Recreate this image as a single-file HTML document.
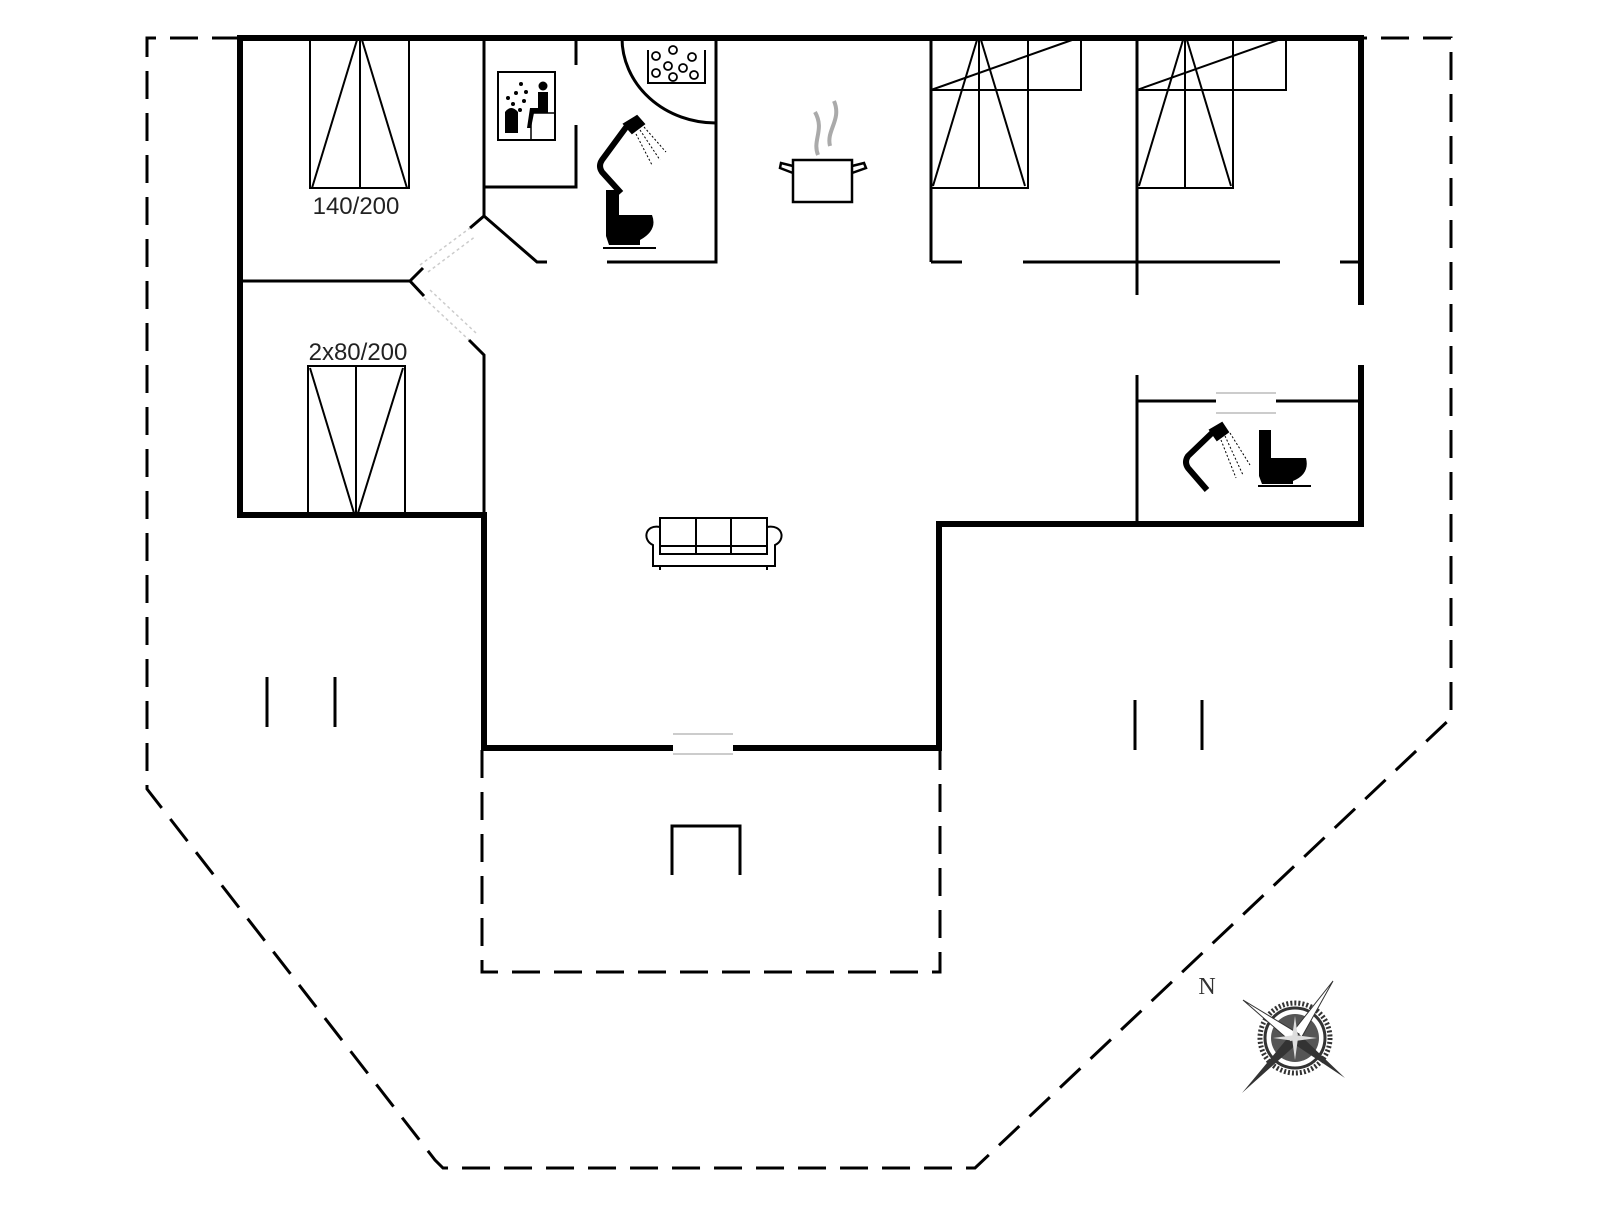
<!DOCTYPE html>
<html><head><meta charset="utf-8"><style>
html,body{margin:0;padding:0;background:#fff;}
svg{display:block;}
</style></head><body>
<svg width="1606" height="1205" viewBox="0 0 1606 1205" xmlns="http://www.w3.org/2000/svg">
<g fill="none" stroke="#000" stroke-linecap="butt">
<g stroke-width="3" stroke-dasharray="28,14">
<polyline points="240,38 147,38 147,789 435,1160 443,1168 975,1168 1451,718 1451,38 1361,38"/>
<polyline points="482,750 482,972 940,972 940,750"/>
</g>
<g stroke-width="6">
<line x1="237" y1="38" x2="1364" y2="38"/>
<line x1="240" y1="35" x2="240" y2="518"/>
<polyline points="237,515 484,515 484,751"/>
<line x1="484" y1="748" x2="673" y2="748"/>
<line x1="733" y1="748" x2="942" y2="748"/>
<polyline points="939,751 939,524 1364,524"/>
<line x1="1361" y1="35" x2="1361" y2="305"/>
<line x1="1361" y1="365" x2="1361" y2="527"/>
</g>
<g stroke-width="3">
<line x1="484" y1="38" x2="484" y2="216"/>
<polyline points="470,228 484,216 537,262 547,262"/>
<polyline points="240,281 410,281"/>
<polyline points="423,268 410,281 424,296"/>
<polyline points="469,340 484,355 484,515"/>
<polyline points="484,187 576,187 576,125"/>
<line x1="576" y1="38" x2="576" y2="65"/>
<polyline points="607,262 716,262 716,38"/>
<path d="M622,38 A94,85 0 0 0 716,123"/>
<line x1="931" y1="38" x2="931" y2="262"/>
<line x1="931" y1="262" x2="962" y2="262"/>
<line x1="1023" y1="262" x2="1280" y2="262"/>
<line x1="1340" y1="262" x2="1358" y2="262"/>
<line x1="1137" y1="38" x2="1137" y2="295"/>
<line x1="1137" y1="375" x2="1137" y2="524"/>
<line x1="1137" y1="401" x2="1216" y2="401"/>
<line x1="1276" y1="401" x2="1361" y2="401"/>
</g>
<g stroke="#ccc" stroke-width="1.5" stroke-dasharray="3,3">
<line x1="420" y1="265" x2="470" y2="228"/>
<line x1="428" y1="272" x2="476" y2="236"/>
<line x1="424" y1="298" x2="469" y2="340"/>
<line x1="430" y1="290" x2="476" y2="333"/>
</g>
<g stroke="#bbb" stroke-width="1.5">
<line x1="673" y1="734" x2="733" y2="734"/>
<line x1="673" y1="754" x2="733" y2="754"/>
<line x1="1216" y1="393" x2="1276" y2="393"/>
<line x1="1216" y1="413" x2="1276" y2="413"/>
</g>
<g stroke-width="2">
<rect x="310" y="38" width="99" height="150"/>
<line x1="360" y1="38" x2="360" y2="188"/>
<polyline points="312,188 357,40 362,40 407,188"/>
<rect x="308" y="366" width="97" height="149"/>
<line x1="356" y1="366" x2="356" y2="515"/>
<polyline points="310,368 354,513 358,513 403,368"/>
<rect x="931" y="38" width="97" height="150"/>
<line x1="979" y1="38" x2="979" y2="188"/>
<polyline points="933,186 977,40 981,40 1025,186"/>
<rect x="931" y="38" width="150" height="52"/>
<line x1="931" y1="90" x2="1072" y2="40"/>
<rect x="1137" y="38" width="96" height="150"/>
<line x1="1185" y1="38" x2="1185" y2="188"/>
<polyline points="1139,186 1183,40 1187,40 1231,186"/>
<rect x="1137" y="38" width="149" height="52"/>
<line x1="1137" y1="90" x2="1278" y2="40"/>
</g>
<rect x="498" y="72" width="57" height="68" stroke-width="2"/>
<path d="M648,50 L648,83 L705,83 L705,50" stroke-width="2"/>
<g stroke-width="1.8">
<circle cx="656" cy="56" r="4"/><circle cx="673" cy="50" r="4"/><circle cx="692" cy="57" r="4"/>
<circle cx="668" cy="66" r="4"/><circle cx="683" cy="68" r="4"/><circle cx="656" cy="73" r="4"/>
<circle cx="673" cy="77" r="4"/><circle cx="694" cy="75" r="4"/>
</g>
<polyline points="672,875 672,826 740,826 740,875" stroke-width="3"/>
<g stroke-width="3">
<line x1="267" y1="677" x2="267" y2="727"/><line x1="335" y1="677" x2="335" y2="727"/>
<line x1="1135" y1="700" x2="1135" y2="750"/><line x1="1202" y1="700" x2="1202" y2="750"/>
</g>
<g stroke-width="2.5">
<rect x="793" y="160" width="59" height="42"/>
<path d="M793,166 L781,163 L780,168 L793,173"/>
<path d="M852,166 L864,163 L866,168 L852,173"/>
</g>
<g stroke="#aaa" stroke-width="4">
<path d="M818,155 C812,140 825,130 815,112"/>
<path d="M830,146 C826,130 842,120 834,101"/>
</g>
<g stroke-width="2">
<rect x="660" y="518" width="107" height="36"/>
<line x1="696" y1="518" x2="696" y2="554"/><line x1="731" y1="518" x2="731" y2="554"/>
<line x1="660" y1="546" x2="767" y2="546"/>
<path d="M660,527 C645,524 642,540 653,545 L653,566 L775,566 L775,545 C786,540 783,524 767,527"/>
<line x1="660" y1="566" x2="660" y2="570"/><line x1="767" y1="566" x2="767" y2="570"/>
</g>
</g>
<g fill="#000">
<path d="M505,133 L505,112 Q511,104 518,112 L518,133 Z"/>
<circle cx="543" cy="86" r="4.5"/>
<path d="M538,92 L548,92 L548,113 L534,113 L531,128 L527,128 L530,108 L538,108 Z"/>
<circle cx="508" cy="98" r="2"/><circle cx="516" cy="93" r="2"/><circle cx="521" cy="84" r="2"/>
<circle cx="513" cy="104" r="2"/><circle cx="524" cy="101" r="2"/><circle cx="520" cy="110" r="2"/>
<circle cx="526" cy="92" r="2"/>
</g>
<line x1="531" y1="113" x2="531" y2="140" stroke="#000" stroke-width="1.5"/>
<line x1="531" y1="113" x2="555" y2="113" stroke="#000" stroke-width="1.5"/>
<g fill="none" stroke="#000">
<path d="M621,193 L602,172 Q598,166 602,160 L627,126" stroke-width="6"/>
<path d="M624,124 L637,116 L644,124 L632,133 Z" fill="#000" stroke-width="2"/>
<g stroke-width="1" stroke-dasharray="2,2"><line x1="640" y1="130" x2="660" y2="160"/><line x1="644" y1="127" x2="666" y2="152"/><line x1="636" y1="134" x2="652" y2="165"/></g>
</g>
<path d="M606,190 L619,190 L619,215 L652,215 Q658,230 640,240 L640,245 L609,245 L606,236 Z" fill="#000"/>
<line x1="603" y1="248" x2="656" y2="248" stroke="#000" stroke-width="2"/>
<g fill="none" stroke="#000">
<path d="M1207,490 L1188,468 Q1184,462 1188,456 L1213,432" stroke-width="6"/>
<path d="M1210,430 L1222,423 L1228,432 L1217,440 Z" fill="#000" stroke-width="2"/>
<g stroke-width="1" stroke-dasharray="2,2"><line x1="1225" y1="436" x2="1243" y2="475"/><line x1="1230" y1="433" x2="1250" y2="465"/><line x1="1221" y1="440" x2="1236" y2="478"/></g>
</g>
<path d="M1259,430 L1271,430 L1271,458 L1306,458 Q1310,474 1293,481 L1293,484 L1262,484 L1259,476 Z" fill="#000"/>
<line x1="1258" y1="486" x2="1311" y2="486" stroke="#000" stroke-width="2"/>
<g font-family="Liberation Sans, sans-serif" font-size="24" fill="#222" text-anchor="middle">
<text x="356" y="214">140/200</text>
<text x="358" y="360">2x80/200</text>
</g>
<text x="1207" y="994" font-family="Liberation Serif, serif" font-size="24" fill="#333" text-anchor="middle">N</text>
<g transform="translate(1295,1038)">
<circle r="35" fill="none" stroke="#333" stroke-width="5" stroke-dasharray="2,2"/>
<circle r="30" fill="none" stroke="#333" stroke-width="3"/>
<circle r="24" fill="#555"/>
<polygon points="-53,55 -4,-4 4,4" fill="#333"/>
<polygon points="38,-57 4,4 -4,-4" fill="#fff" stroke="#333"/>
<polygon points="-52,-38 4,-4 -4,4" fill="#fff" stroke="#333"/>
<polygon points="50,40 -4,4 4,-4" fill="#333"/>
<polygon points="0,-22 3,0 0,22 -3,0" fill="#ddd"/>
<polygon points="-22,0 0,3 22,0 0,-3" fill="#ddd"/>
</g>
</svg>
</body></html>
